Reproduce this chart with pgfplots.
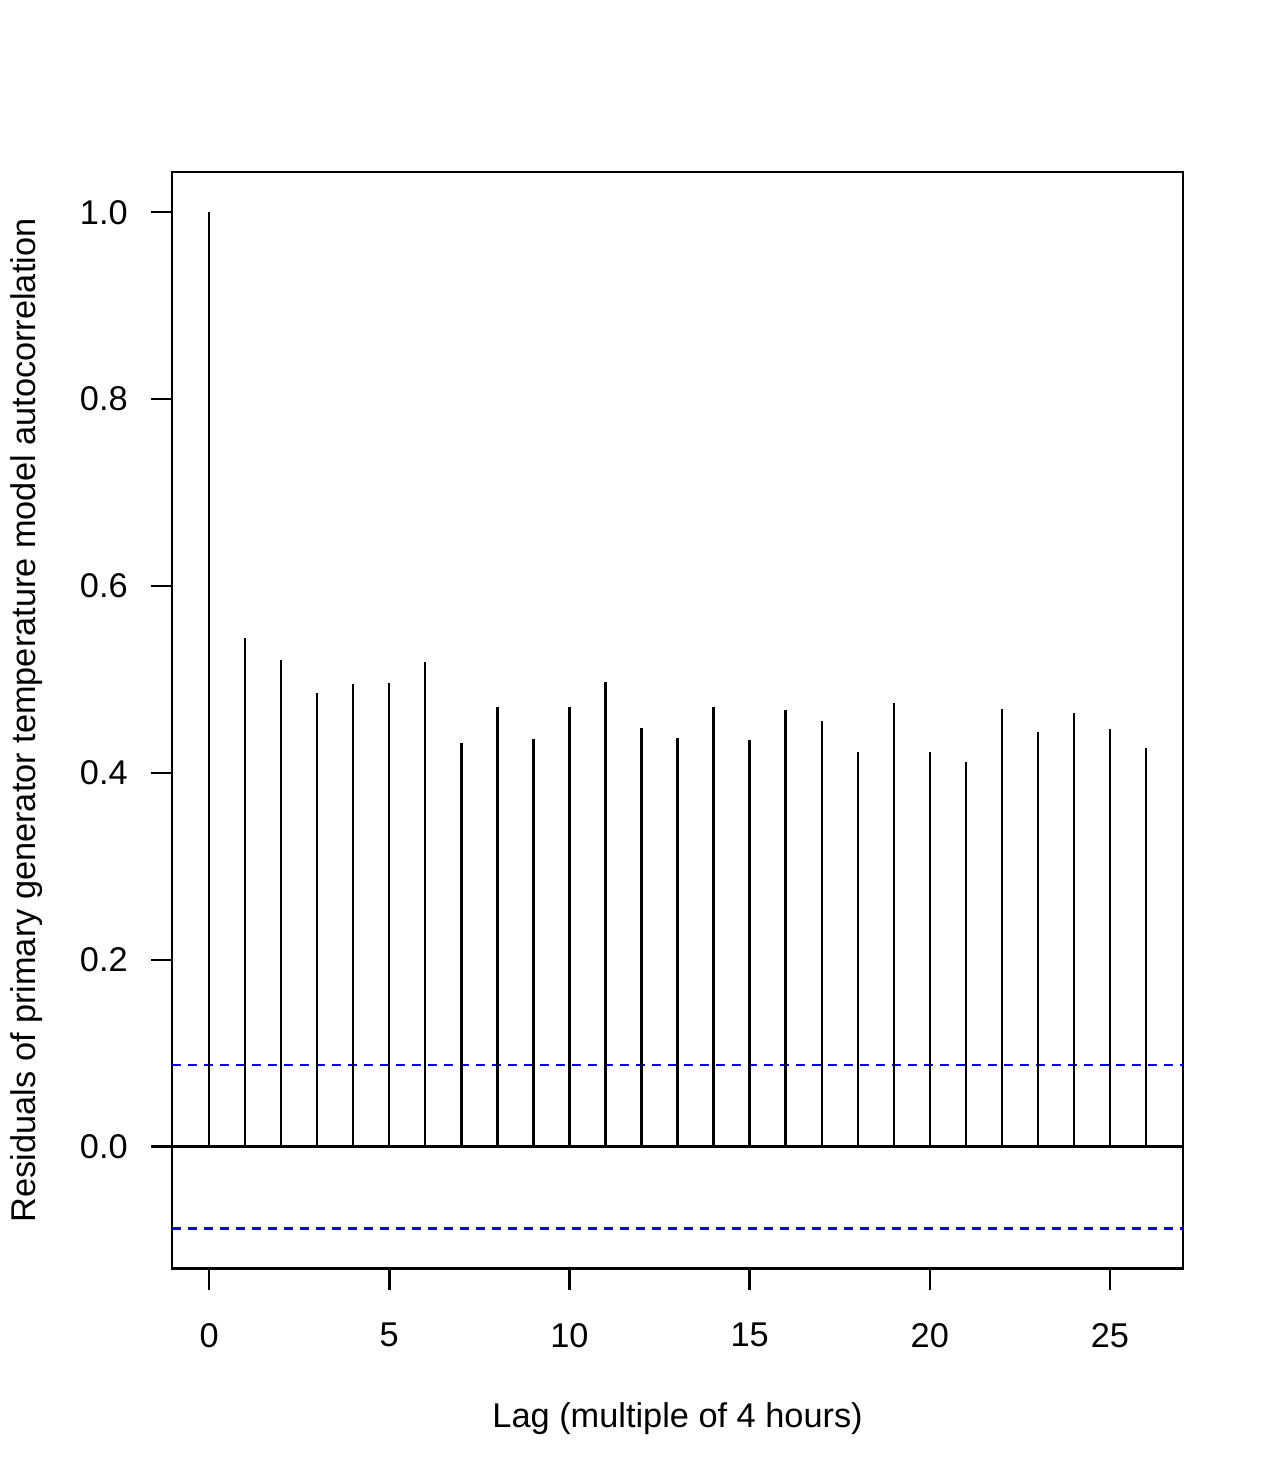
\documentclass[border=0pt]{standalone}
\usepackage{pgfplots}
\pgfplotsset{compat=1.18}
\usepackage{fontspec}
\setmainfont{Liberation Sans}

\begin{document}
\begin{tikzpicture}[font=\fontsize{10.3}{12.4}\selectfont]
\begin{axis}[
    scale only axis,
    width=303.3pt, height=329pt,
    xmin=-1.027, xmax=27.03,
    ymin=-0.1306, ymax=1.0431,
    xtick={0,5,...,25},
    ytick={0,0.2,...,1.0},
    yticklabel style={/pgf/number format/fixed, /pgf/number format/fixed zerofill, /pgf/number format/precision=1},
    /pgf/number format/assume math mode=true,
    tick align=outside,
    major tick length=6.4pt,
    tick style={black, line width=0.75pt},
    axis line style={black, line width=0.75pt},
    xtick pos=bottom, ytick pos=left,
    xticklabel style={yshift=-6.4pt},
    yticklabel style={xshift=-3.4pt},
    xlabel={Lag (multiple of 4 hours)},
    ylabel={Residuals of primary generator temperature model autocorrelation},
    xlabel style={at={(axis description cs:0.5,-0.1368)}, anchor=center},
    ylabel style={at={(axis description cs:-0.1434,0.5)}, anchor=center, rotate=0},
    clip=false,
]
% confidence bounds
\addplot[blue, line width=0.7pt, dash pattern=on 2.7pt off 2.1pt] coordinates {(-1.027,0.0877) (27.03,0.0877)};
\addplot[blue, line width=0.7pt, dash pattern=on 2.7pt off 2.1pt] coordinates {(-1.027,-0.0877) (27.03,-0.0877)};
% zero line
\addplot[black, line width=0.75pt] coordinates {(-1.027,0) (27.03,0)};
% acf spikes
\addplot[ycomb, black, line width=0.7pt, mark=none] coordinates {
    (0,1.000) (1,0.544) (2,0.521) (3,0.486) (4,0.495) (5,0.496) (6,0.519)
    (7,0.432) (8,0.470) (9,0.436) (10,0.471) (11,0.497) (12,0.448) (13,0.437)
    (14,0.471) (15,0.435) (16,0.467) (17,0.455) (18,0.422) (19,0.475) (20,0.422)
    (21,0.412) (22,0.468) (23,0.444) (24,0.464) (25,0.447) (26,0.427)
};
\end{axis}
\path (current axis.south west) ++(-51.6pt,-64.6pt)
      (current axis.north east) ++(26.7pt,51.6pt);
\end{tikzpicture}
\end{document}
